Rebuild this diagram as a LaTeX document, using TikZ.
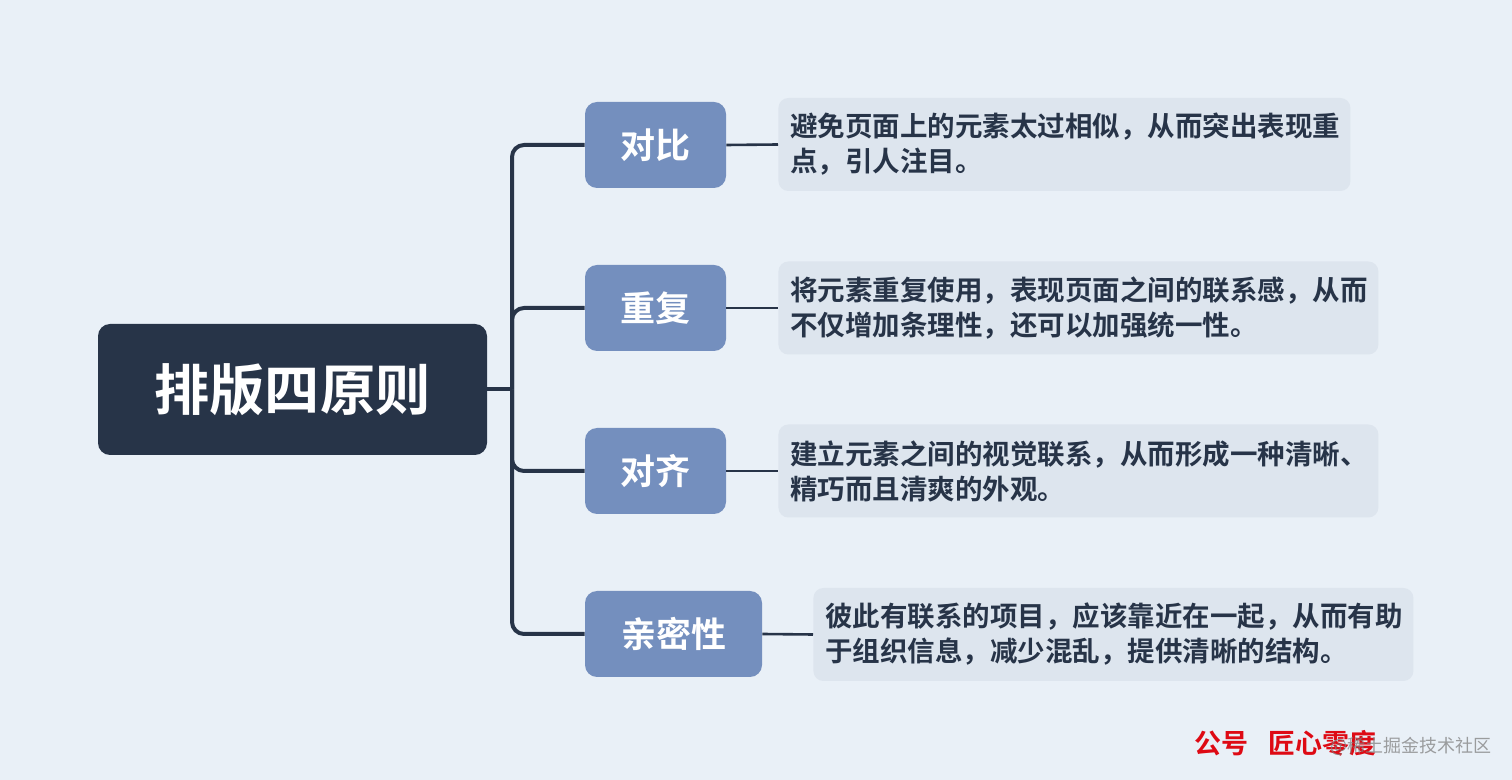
\documentclass[tikz,border=0pt]{standalone}
\usepackage{fontspec}
\setmainfont{Noto Sans CJK SC}
\newfontfamily\cjkb{Noto Sans CJK SC Bold}
\definecolor{bgc}{RGB}{233,240,247}
\definecolor{rootc}{RGB}{39,52,72}
\definecolor{branchc}{RGB}{116,143,190}
\definecolor{leafc}{RGB}{221,229,238}
\definecolor{linec}{RGB}{39,52,72}
\definecolor{wmred}{RGB}{222,10,20}
\begin{document}
\begin{tikzpicture}[x=0.5pt,y=-0.5pt,
  rootbox/.style={fill=rootc,rounded corners=6pt,text=white,font=\cjkb\fontsize{27.6}{30}\selectfont,minimum width=194.5pt,minimum height=65.5pt,inner sep=0pt},
  branchbox/.style={fill=branchc,rounded corners=6pt,text=white,font=\cjkb\fontsize{17.5}{20}\selectfont,minimum height=43pt,inner sep=0pt},
  leafbox/.style={fill=leafc,rounded corners=5pt,text=rootc,font=\cjkb\fontsize{13.75}{17.5}\selectfont,align=left,inner xsep=6pt,minimum height=46.5pt,anchor=west},
  trunk/.style={draw=linec,line width=2pt,rounded corners=6pt},
  twig/.style={draw=linec,line width=1.3pt}]
\fill[bgc] (0,0) rectangle (1512,780);
\useasboundingbox (0,0) rectangle (1512,780);
\node[rootbox] (root) at (292.5,389.5) {排版四原则};
\node[branchbox,minimum width=70.5pt] (b1) at (655.5,145) {对比};
\node[branchbox,minimum width=70.5pt] (b2) at (655.5,308) {重复};
\node[branchbox,minimum width=70.5pt] (b3) at (655.5,471) {对齐};
\node[branchbox,minimum width=88.5pt] (b4) at (673.5,634) {亲密性};
\node[leafbox,text width=274pt] (l1) at (778,144.5) {避免页面上的元素太过相似，从而突出表现重\\点，引人注目。};
\node[leafbox,text width=288pt] (l2) at (778,308) {将元素重复使用，表现页面之间的联系感，从而\\不仅增加条理性，还可以加强统一性。};
\node[leafbox,text width=288pt] (l3) at (778,471) {建立元素之间的视觉联系，从而形成一种清晰、\\精巧而且清爽的外观。};
\node[leafbox,text width=288pt] (l4) at (813,634.5) {彼此有联系的项目，应该靠近在一起，从而有助\\于组织信息，减少混乱，提供清晰的结构。};
\coordinate (j) at (512,389.5);
\draw[trunk] (root.east) -- (j);
\draw[trunk] (j) |- (b1.west);
\draw[trunk] (j) |- (b2.west);
\draw[trunk] (j) |- (b3.west);
\draw[trunk] (j) |- (b4.west);
\draw[twig] (b1.east) -- (l1.west);
\draw[twig] (b2.east) -- (l2.west);
\draw[twig] (b3.east) -- (l3.west);
\draw[twig] (b4.east) -- (l4.west);
\node[font=\cjkb\fontsize{13.5}{16}\selectfont,text=wmred,anchor=west,inner sep=0pt] (wm1) at (1194,743) {公号\hspace{10pt}匠心零度};
\node[font=\fontsize{9}{11}\selectfont,text=gray,opacity=0.75,anchor=west,inner sep=0pt] (wm2) at (1330,746) {@稀土掘金技术社区};
\end{tikzpicture}
\end{document}
